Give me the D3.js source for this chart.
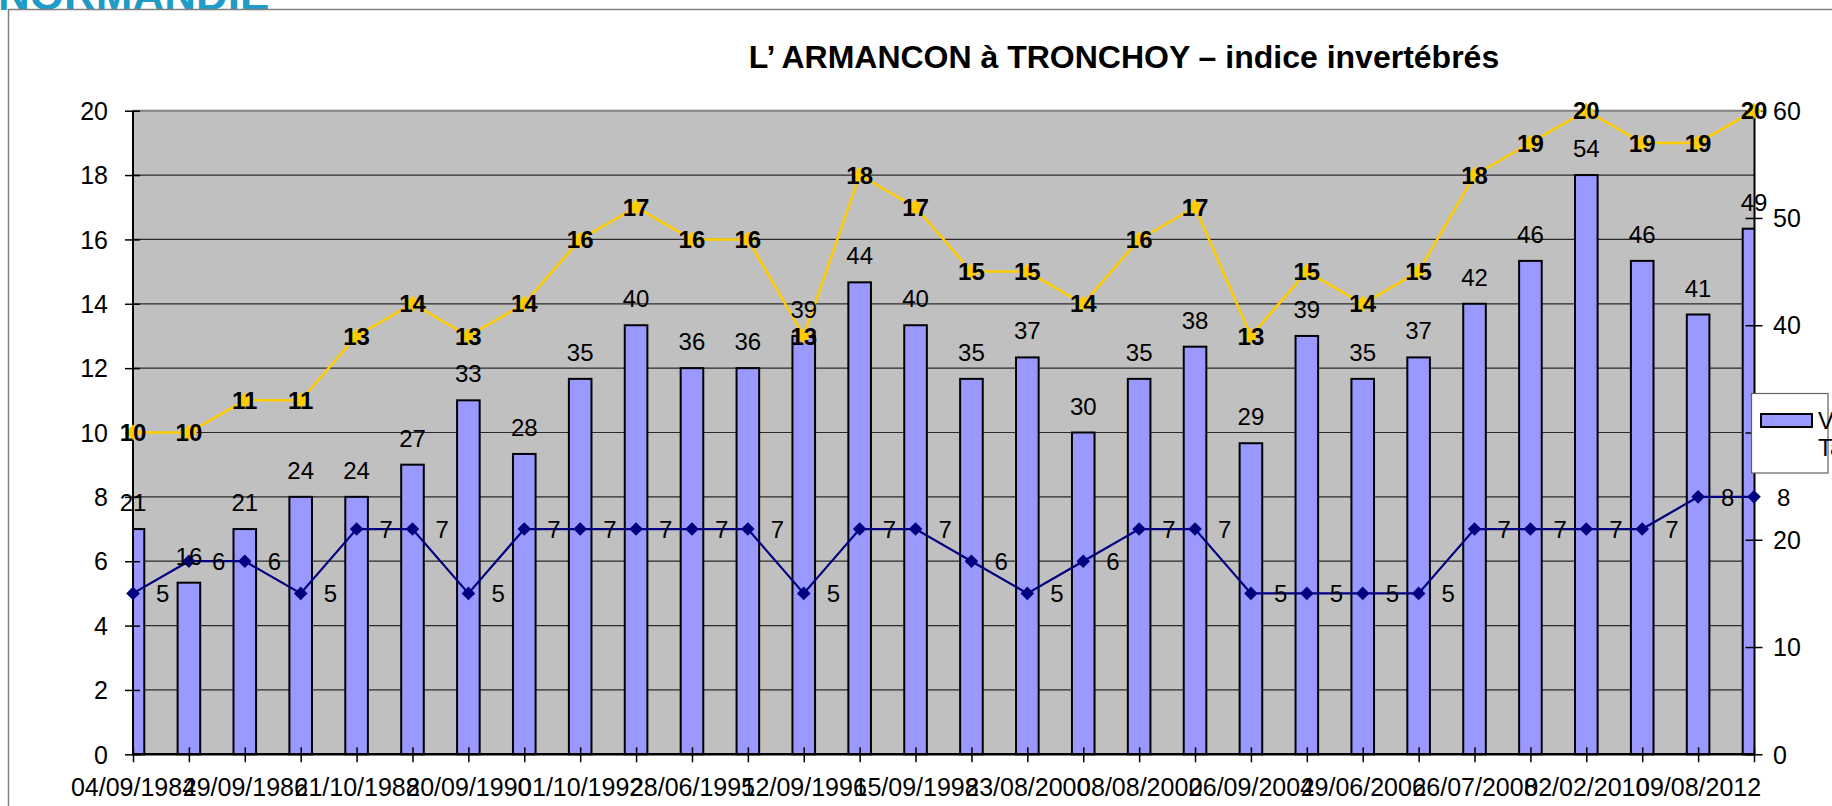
<!DOCTYPE html>
<html>
<head>
<meta charset="utf-8">
<script src="https://cdn.jsdelivr.net/npm/d3@7"></script>
<style>
  body { margin: 0; background: #fff; }
  svg { display: block; }
  text { font-family: "Liberation Sans", Arial, sans-serif; }
</style>
</head>
<body>
<svg id="chart" width="1832" height="806"></svg>
<script>
// ---- data ----
const categories = d3.range(30); // 30 sampling campaigns
const tickLabels = ["04/09/1984","29/09/1986","21/10/1988","20/09/1990","01/10/1992",
  "28/06/1995","12/09/1996","15/09/1998","23/08/2000","08/08/2002","06/09/2004",
  "29/06/2006","26/07/2008","02/02/2010","09/08/2012"];
const varieteTaxo = [21,16,21,24,24,27,33,28,35,40,36,36,39,44,40,35,37,30,35,38,29,39,35,37,42,46,54,46,41,49];
const noteIBGN   = [10,10,11,11,13,14,13,14,16,17,16,16,13,18,17,15,15,14,16,17,13,15,14,15,18,19,20,19,19,20];
const groupeIndic = [5,6,6,5,7,7,5,7,7,7,7,7,5,7,7,6,5,6,7,7,5,5,5,5,7,7,7,7,8,8];
const leftTicks = [0,2,4,6,8,10,12,14,16,18,20];
const rightTicks = [0,10,20,30,40,50,60];
const titleText = "L\u2019 ARMANCON à TRONCHOY \u2013 indice invertébrés";
const legendLines = ["Variété", "Taxonomique"];

// ---- layout ----
const svg = d3.select("#chart");
const P = { left: 132.5, right: 1754, top: 110.7, bottom: 754.3 };
const x = d3.scalePoint().domain(categories).range([133, 1754]);
const yL = d3.scaleLinear().domain([0, 20]).range([P.bottom, P.top]);
const yR = d3.scaleLinear().domain([0, 60]).range([P.bottom, P.top]);
const barW = 22.6;

// logo fragment
svg.append("text").attr("x", -2).attr("y", 10)
  .attr("font-size", 44).attr("font-weight", "bold").attr("fill", "#1f9cc6")
  .text("NORMANDIE");

// chart frame
svg.append("rect").attr("x", 8.5).attr("y", 9.5).attr("width", 1900).attr("height", 900)
  .attr("fill", "#fff").attr("stroke", "#808080").attr("stroke-width", 1.5);

// title
svg.append("text").attr("x", 1124).attr("y", 68).attr("text-anchor", "middle")
  .attr("font-size", 32).attr("font-weight", "bold").attr("fill", "#000").text(titleText);

// plot area
svg.append("rect").attr("x", P.left).attr("y", P.top)
  .attr("width", P.right - P.left).attr("height", P.bottom - P.top).attr("fill", "#c0c0c0");

svg.append("g").selectAll("line").data(leftTicks.filter(t => t > 0 && t < 20)).join("line")
  .attr("x1", P.left).attr("x2", P.right)
  .attr("y1", d => yL(d)).attr("y2", d => yL(d))
  .attr("stroke", "#2a2a2a").attr("stroke-width", 1.2);

svg.append("line").attr("x1", P.left).attr("x2", P.right).attr("y1", P.top).attr("y2", P.top)
  .attr("stroke", "#808080").attr("stroke-width", 2);

svg.append("clipPath").attr("id", "plotclip").append("rect")
  .attr("x", P.left).attr("y", P.top - 5).attr("width", P.right - P.left).attr("height", P.bottom - P.top + 10);

// bars
svg.append("g").attr("clip-path", "url(#plotclip)")
  .selectAll("rect").data(varieteTaxo).join("rect")
  .attr("x", (d, i) => x(i) - barW / 2).attr("width", barW)
  .attr("y", d => yR(d)).attr("height", d => yR(0) - yR(d))
  .attr("fill", "#9999ff").attr("stroke", "#000").attr("stroke-width", 2);

// axes
const fontAxis = 25;
const gL = svg.append("g").attr("transform", `translate(${P.left},0)`)
  .call(d3.axisLeft(yL).tickValues(leftTicks).tickSize(7.5).tickSizeOuter(0));
gL.select(".domain").attr("stroke", "#000").attr("stroke-width", 2);
gL.selectAll(".tick line").attr("x1", 7.5).attr("x2", -7.5).attr("stroke", "#000").attr("stroke-width", 1.5);
gL.selectAll(".tick text").attr("x", -24.5).attr("dy", "0.35em").attr("font-size", fontAxis).attr("fill", "#000")
  .attr("font-family", "Liberation Sans, Arial, sans-serif");

const gR = svg.append("g").attr("transform", `translate(${P.right},0)`)
  .call(d3.axisRight(yR).tickValues(rightTicks).tickSize(8).tickSizeOuter(0));
gR.select(".domain").attr("stroke", "#000").attr("stroke-width", 2);
gR.selectAll(".tick line").attr("x1", -8.5).attr("x2", 8.5).attr("stroke", "#000").attr("stroke-width", 1.5);
gR.selectAll(".tick text").attr("x", 19).attr("dy", "0.35em").attr("font-size", fontAxis).attr("fill", "#000")
  .attr("font-family", "Liberation Sans, Arial, sans-serif");

const gX = svg.append("g").attr("transform", `translate(0,${P.bottom})`)
  .call(d3.axisBottom(x).tickSize(7).tickSizeOuter(0)
    .tickFormat(i => (i % 2 === 0 ? tickLabels[i / 2] : "")));
gX.select(".domain").attr("d", `M${P.left},0H${P.right}`).attr("stroke", "#000").attr("stroke-width", 2.5);
gX.selectAll(".tick line").attr("y1", -7).attr("y2", 8).attr("stroke", "#000").attr("stroke-width", 1.5);
gX.selectAll(".tick text").attr("y", 42).attr("dy", "0").attr("font-size", fontAxis).attr("fill", "#000")
  .attr("font-family", "Liberation Sans, Arial, sans-serif");

// lines
const diamond = r => `M0,${-r}L${r},0L0,${r}L${-r},0Z`;
const lineL = d3.line().x((d, i) => x(i)).y(d => yL(d));

svg.append("path").datum(noteIBGN).attr("d", lineL)
  .attr("fill", "none").attr("stroke", "#ffcc00").attr("stroke-width", 2.5);
svg.append("g").selectAll("path").data(noteIBGN).join("path")
  .attr("transform", (d, i) => `translate(${x(i)},${yL(d)})`)
  .attr("d", diamond(8)).attr("fill", "#ffcc00");

svg.append("path").datum(groupeIndic).attr("d", lineL)
  .attr("fill", "none").attr("stroke", "#000080").attr("stroke-width", 2.2);
svg.append("g").selectAll("path").data(groupeIndic).join("path")
  .attr("transform", (d, i) => `translate(${x(i)},${yL(d)})`)
  .attr("d", diamond(6.8)).attr("fill", "#000080");

// data labels
const fontLab = 24;
svg.append("g").selectAll("text").data(varieteTaxo).join("text")
  .attr("x", (d, i) => x(i)).attr("y", d => yR(d) - 18)
  .attr("text-anchor", "middle").attr("font-size", fontLab).attr("fill", "#000").text(d => d);

svg.append("g").selectAll("text").data(groupeIndic).join("text")
  .attr("x", (d, i) => x(i) + 23).attr("y", d => yL(d)).attr("dy", "0.36em")
  .attr("font-size", fontLab).attr("fill", "#000").text(d => d);

svg.append("g").selectAll("text").data(noteIBGN).join("text")
  .attr("x", (d, i) => x(i)).attr("y", d => yL(d)).attr("dy", "0.36em")
  .attr("text-anchor", "middle").attr("font-size", fontLab).attr("font-weight", "bold")
  .attr("fill", "#000").text(d => d);

// legend (partly off the page)
const lg = svg.append("g");
lg.append("rect").attr("x", 1751.5).attr("y", 393.5).attr("width", 76.5).attr("height", 79.5)
  .attr("fill", "#fff").attr("stroke", "#606060").attr("stroke-width", 1.2);
lg.append("rect").attr("x", 1761).attr("y", 414).attr("width", 51).attr("height", 13)
  .attr("fill", "#9999ff").attr("stroke", "#000").attr("stroke-width", 2);
lg.selectAll("text.lt").data(legendLines).join("text").attr("class", "lt")
  .attr("x", 1818).attr("y", (d, i) => 420 + i * 27).attr("dy", "0.36em")
  .attr("font-size", fontLab).attr("fill", "#000").text(d => d);
</script>
</body>
</html>
